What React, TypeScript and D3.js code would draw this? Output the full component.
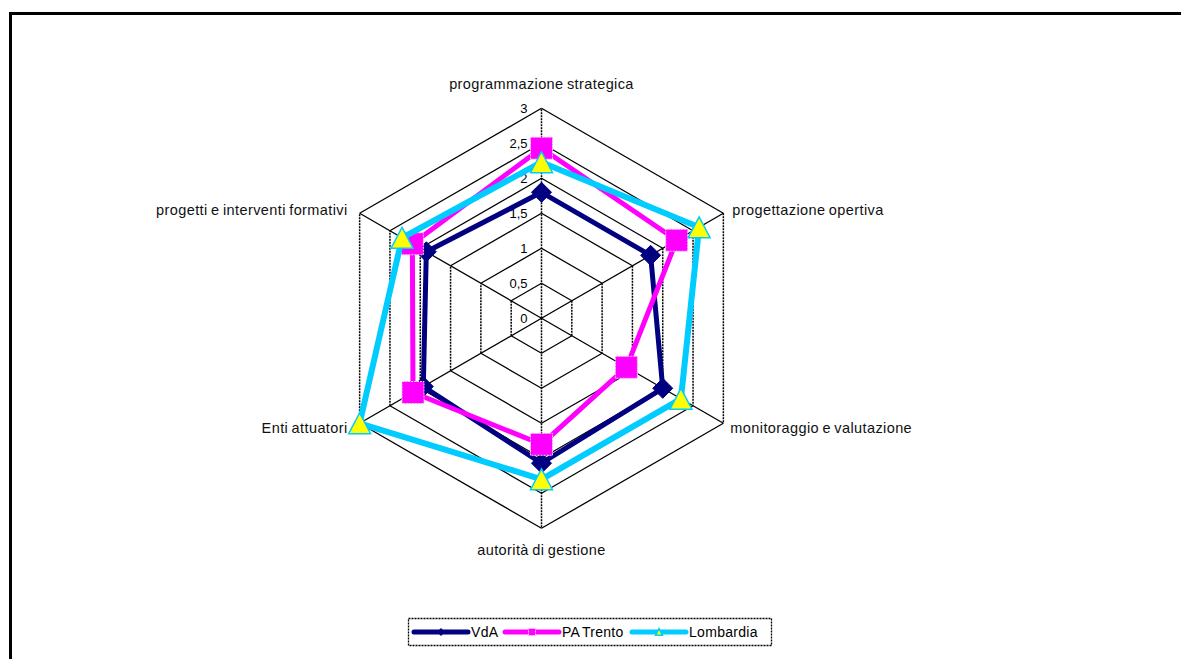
import React, { useEffect, useRef } from 'react';
import * as d3 from 'd3';

// axes, clockwise from the top
const axes = [
  'programmazione strategica',
  'progettazione opertiva',
  'monitoraggio e valutazione',
  'autorità di gestione',
  'Enti attuatori',
  'progetti e interventi formativi'
];
const ticks = [0, 0.5, 1, 1.5, 2, 2.5, 3];
const tickLabels = ['0', '0,5', '1', '1,5', '2', '2,5', '3'];

const vda = [1.8, 1.8, 2.0, 2.07, 1.95, 1.9];
const paTrento = [2.43, 2.23, 1.4, 1.8, 2.12, 2.13];
const lombardia = [2.23, 2.6, 2.3, 2.3, 3.0, 2.3];

const series = [
  { name: 'VdA', values: vda, color: '#000080', marker: 'diamond', width: 5 },
  { name: 'PA Trento', values: paTrento, color: '#FF00FF', marker: 'square', width: 5 },
  { name: 'Lombardia', values: lombardia, color: '#00CCFF', marker: 'triangle', width: 6 }
];

const W = 1181;
const H = 659;
const FONT = '"Liberation Sans", Arial, sans-serif';

const App: React.FC = () => {
  const svgRef = useRef<SVGSVGElement>(null);

  useEffect(() => {
    if (!svgRef.current) return;
    const svg = d3.select(svgRef.current);
    svg.selectAll('*').remove();

    const cx = 541.5;
    const cy = 318.3;
    const r = d3.scaleLinear().domain([0, 3]).range([0, 210]);
    const angle = d3.scaleLinear().domain([0, axes.length]).range([0, 2 * Math.PI]);
    const pt = (i: number, v: number): [number, number] => [
      cx + r(v) * Math.sin(angle(i)),
      cy - r(v) * Math.cos(angle(i))
    ];

    // outer frame
    svg.append('path')
      .attr('d', `M10.5,${H + 5} V13.5 H${W + 5}`)
      .attr('fill', 'none')
      .attr('stroke', '#000')
      .attr('stroke-width', 3);

    const grid = svg.append('g');
    const seg = (a: [number, number], b: [number, number]) => {
      const vertical = Math.abs(a[0] - b[0]) < 0.5;
      grid.append('line')
        .attr('x1', a[0]).attr('y1', a[1])
        .attr('x2', b[0]).attr('y2', b[1])
        .attr('stroke', '#000')
        .attr('stroke-width', vertical ? 1.5 : 1.3)
        .attr('stroke-dasharray', vertical ? '2,1' : null);
    };

    // rings
    ticks.slice(1).forEach(t => {
      axes.forEach((_, i) => seg(pt(i, t), pt((i + 1) % axes.length, t)));
    });
    // spokes
    axes.forEach((_, i) => seg(pt(i, 0), pt(i, 3)));

    // tick labels
    svg.append('g').selectAll('text')
      .data(ticks)
      .enter()
      .append('text')
      .attr('x', cx - 14)
      .attr('y', d => cy - r(d))
      .attr('dy', '0.36em')
      .attr('text-anchor', 'end')
      .style('font-family', FONT)
      .style('font-size', '13px')
      .text((_, i) => tickLabels[i]);

    // axis labels
    const labelPos = [
      { dx: 0, dy: -25, anchor: 'middle' },
      { dx: 9, dy: -4, anchor: 'start' },
      { dx: 7, dy: 4, anchor: 'start' },
      { dx: 0, dy: 21, anchor: 'middle' },
      { dx: -12, dy: 4, anchor: 'end' },
      { dx: -12, dy: -4, anchor: 'end' }
    ];
    svg.append('g').selectAll('text')
      .data(axes)
      .enter()
      .append('text')
      .attr('x', (_, i) => pt(i, 3)[0] + labelPos[i].dx)
      .attr('y', (_, i) => pt(i, 3)[1] + labelPos[i].dy)
      .attr('dy', '0.36em')
      .attr('text-anchor', (_, i) => labelPos[i].anchor)
      .style('font-family', FONT)
      .style('font-size', '14.5px')
      .style('letter-spacing', '0.4px')
      .style('word-spacing', '-1px')
      .style('fill', '#111')
      .text(d => d);

    const drawMarker = (g: any, kind: string, x: number, y: number, s: number) => {
      if (kind === 'diamond') {
        g.append('path')
          .attr('d', `M${x},${y - s} L${x + s},${y} L${x},${y + s} L${x - s},${y} Z`)
          .attr('fill', '#000080')
          .attr('stroke', '#000080')
          .attr('stroke-width', 1);
      } else if (kind === 'square') {
        g.append('rect')
          .attr('x', x - s).attr('y', y - s)
          .attr('width', 2 * s).attr('height', 2 * s)
          .attr('fill', '#FF00FF')
          .attr('stroke', '#FFCCFF')
          .attr('stroke-width', 1)
          .attr('stroke-dasharray', '2,1');
      } else {
        const h = s * 1.9;
        g.append('path')
          .attr('d', `M${x},${y - h / 2} L${x + s},${y + h / 2} L${x - s},${y + h / 2} Z`)
          .attr('fill', '#FFFF00')
          .attr('stroke', '#00CCFF')
          .attr('stroke-width', 1.5)
          .attr('stroke-linejoin', 'miter');
      }
    };

    const line = d3.line<[number, number]>().curve(d3.curveLinearClosed);
    series.forEach(s => {
      const g = svg.append('g');
      const pts = s.values.map((v, i) => pt(i, v));
      g.append('path')
        .attr('d', line(pts))
        .attr('fill', 'none')
        .attr('stroke', s.color)
        .attr('stroke-width', s.width)
        .attr('stroke-linejoin', 'round');
      pts.forEach(p => drawMarker(g, s.marker, p[0], p[1], s.marker === 'diamond' ? 10 : 11));
    });

    // legend
    const lg = svg.append('g');
    lg.append('rect')
      .attr('x', 408.5).attr('y', 618.5)
      .attr('width', 363).attr('height', 27)
      .attr('fill', '#fff')
      .attr('stroke', '#000')
      .attr('stroke-width', 1.3)
      .attr('stroke-dasharray', '2,1');
    const legendX = [414, 505, 632];
    series.forEach((s, i) => {
      const x0 = legendX[i];
      const ly = 632;
      lg.append('line')
        .attr('x1', x0).attr('y1', ly)
        .attr('x2', x0 + 54).attr('y2', ly)
        .attr('stroke', s.color)
        .attr('stroke-width', 5)
        .attr('stroke-linecap', 'round');
      drawMarker(lg, s.marker, x0 + 27, ly, 3.5);
      lg.append('text')
        .attr('x', x0 + 57)
        .attr('y', ly)
        .attr('dy', '0.36em')
        .style('font-family', FONT)
        .style('font-size', '14px')
        .style('letter-spacing', '0.3px')
        .style('word-spacing', '-1.5px')
        .text(s.name);
    });
  }, []);

  return (
    <div style={{ position: 'absolute', left: 0, top: 0, width: W, height: H, background: '#fff' }}>
      <svg ref={svgRef} width={W} height={H}></svg>
    </div>
  );
};

export default App;
